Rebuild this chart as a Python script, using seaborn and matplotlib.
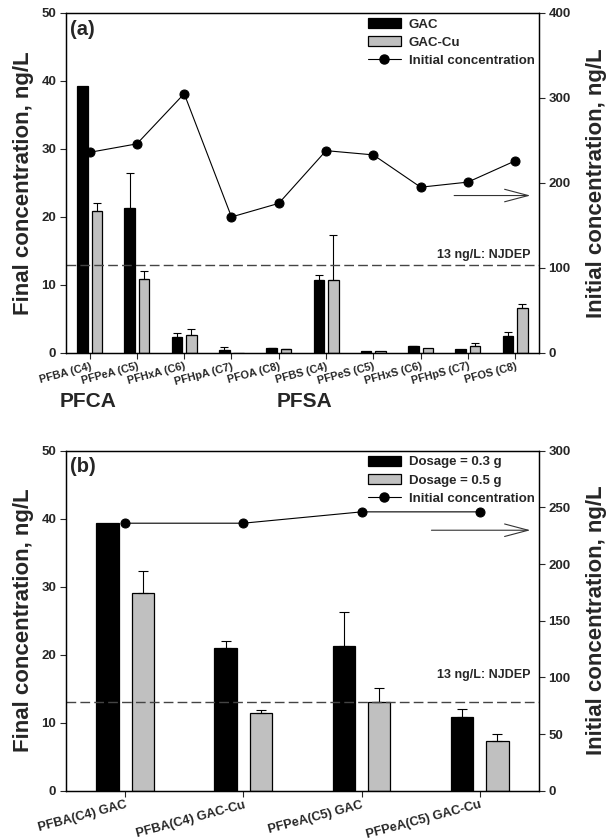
import numpy as np
import pandas as pd
import matplotlib
matplotlib.use("Agg")
import matplotlib.pyplot as plt
import seaborn as sns
from matplotlib.patches import Patch
from matplotlib.lines import Line2D

# ---- panel (a) data ----
compounds_a = ['PFBA (C4)', 'PFPeA (C5)', 'PFHxA (C6)', 'PFHpA (C7)', 'PFOA (C8)',
               'PFBS (C4)', 'PFPeS (C5)', 'PFHxS (C6)', 'PFHpS (C7)', 'PFOS (C8)']
gac = [39.3, 21.3, 2.35, 0.5, 0.68, 10.7, 0.29, 0.97, 0.53, 2.54]
gac_err = [0, 5.1, 0.6, 0.4, 0.05, 0.8, 0, 0.05, 0, 0.55]
gac_cu = [20.9, 10.9, 2.65, 0, 0.59, 10.8, 0.25, 0.78, 1.03, 6.6]
gac_cu_err = [1.1, 1.15, 0.9, 0, 0.05, 6.5, 0, 0, 0.4, 0.65]
initial_a = [236, 246, 305, 160, 176, 238, 233, 195, 201, 226]

# ---- panel (b) data ----
labels_b = ['PFBA(C4) GAC', 'PFBA(C4) GAC-Cu', 'PFPeA(C5) GAC', 'PFPeA(C5) GAC-Cu']
dose03 = [39.3, 21.0, 21.3, 10.85]
dose03_err = [0, 1.0, 5.0, 1.2]
dose05 = [29.0, 11.45, 13.1, 7.3]
dose05_err = [3.3, 0.45, 2.0, 1.0]
initial_b = [236, 236, 246, 246]

sns.set_style("ticks")
plt.rcParams['font.family'] = ['Liberation Sans', 'DejaVu Sans']
plt.rcParams['axes.linewidth'] = 0.9

GRAY = '#c0c0c0'


def draw_panel(ax, cats, s1, e1, s2, e2, names, init, width, gap, capsize,
               xfont, yright, tag, note_y, arrow_x0, arrow_y, leg_y):
    df = pd.DataFrame({
        'cat': cats * 2,
        'grp': [names[0]] * len(cats) + [names[1]] * len(cats),
        'val': list(s1) + list(s2),
    })
    sns.barplot(data=df, x='cat', y='val', hue='grp', order=cats, hue_order=names,
                palette=['black', GRAY], edgecolor='black', linewidth=0.9,
                width=width, gap=gap, errorbar=None, legend=False, ax=ax)
    for cont, errs in zip(ax.containers, [e1, e2]):
        for bar, e in zip(cont, errs):
            if e > 0:
                ax.errorbar(bar.get_x() + bar.get_width() / 2, bar.get_height(),
                            yerr=[[0], [e]], color='black', lw=0.8,
                            capsize=capsize, capthick=0.8)

    ax.axhline(13, color='#444444', ls=(0, (7, 3)), lw=1.0)
    ax.text(0.983, note_y, '13 ng/L: NJDEP', transform=ax.get_yaxis_transform(),
            ha='right', va='center', fontsize=9, fontweight='bold')
    ax.set_ylim(0, 50)
    ax.set_yticks(range(0, 51, 10))
    ax.set_xlim(-0.5, len(cats) - 0.5)
    ax.set_xlabel('')
    ax.set_ylabel('Final concentration, ng/L', fontsize=16, fontweight='bold', labelpad=5)
    ax.tick_params(axis='y', direction='out', length=4, width=0.8, pad=3,
                   labelsize=9.5)
    ax.tick_params(axis='x', direction='out', length=4, width=0.8, pad=2)
    for t in ax.get_yticklabels():
        t.set_fontweight('bold')
    ax.set_xticks(range(len(cats)))
    ax.set_xticklabels(cats, rotation=15, ha='right', rotation_mode='anchor',
                       fontsize=xfont, fontweight='bold')
    ax.text(0.008, 0.952, tag, transform=ax.transAxes, ha='left', va='center',
            fontsize=14.5, fontweight='bold')

    ax2 = ax.twinx()
    sns.lineplot(x=np.arange(len(cats)), y=init, ax=ax2, color='black', lw=0.8,
                 marker='o', markersize=6.5, markeredgecolor='black')
    ax2.set_ylim(0, yright[0])
    ax2.set_yticks(np.arange(0, yright[0] + 1, yright[1]))
    ax2.set_ylabel('Initial concentration, ng/L', fontsize=16, fontweight='bold',
                   labelpad=11)
    ax2.tick_params(axis='y', direction='out', length=4, width=0.8, pad=3,
                    labelsize=9.5)
    for t in ax2.get_yticklabels():
        t.set_fontweight('bold')
    for sp in ax2.spines.values():
        sp.set_linewidth(0.9)
        sp.set_color('black')
    for sp in ax.spines.values():
        sp.set_color('black')

    ax2.annotate('', xy=(0.988, arrow_y), xytext=(arrow_x0, arrow_y),
                 xycoords='axes fraction', textcoords='axes fraction',
                 arrowprops=dict(arrowstyle='->,head_length=1.7,head_width=0.45',
                                 lw=0.8, color='#333333'))

    handles = [Patch(facecolor='black', edgecolor='black', lw=0.9),
               Patch(facecolor=GRAY, edgecolor='black', lw=0.9),
               Line2D([], [], color='black', lw=0.8, marker='o', markersize=6.5)]
    ax2.legend(handles, [names[0], names[1], 'Initial concentration'],
               loc='upper left', bbox_to_anchor=(0.638, leg_y),
               frameon=False, borderpad=0, borderaxespad=0,
               handlelength=2.5, handleheight=0.8, handletextpad=0.6,
               labelspacing=0.42, prop={'size': 9.5, 'weight': 'bold'})
    return ax2


fig = plt.figure(figsize=(6.07, 8.4), dpi=100)
ax_a = fig.add_axes([0.1087, 0.5798, 0.779, 0.4048])
ax_b = fig.add_axes([0.1087, 0.0587, 0.779, 0.4048])

draw_panel(ax_a, compounds_a, gac, gac_err, gac_cu, gac_cu_err, ['GAC', 'GAC-Cu'],
           initial_a, width=0.61, gap=0.27, capsize=3, xfont=7.8,
           yright=(400, 100), tag='(a)', note_y=14.4, arrow_x0=0.815,
           arrow_y=0.463, leg_y=0.985)
draw_panel(ax_b, labels_b, dose03, dose03_err, dose05, dose05_err,
           ['Dosage = 0.3 g', 'Dosage = 0.5 g'], initial_b, width=0.6, gap=0.37,
           capsize=3.3, xfont=9.2, yright=(300, 50), tag='(b)', note_y=17.0,
           arrow_x0=0.767, arrow_y=0.766, leg_y=0.985)

fig.text(60 / 607, 1 - 401.7 / 840, 'PFCA', ha='left', va='center',
         fontsize=15, fontweight='bold')
fig.text(277 / 607, 1 - 401.7 / 840, 'PFSA', ha='left', va='center',
         fontsize=15, fontweight='bold')

fig.savefig('out.png', dpi=100)
